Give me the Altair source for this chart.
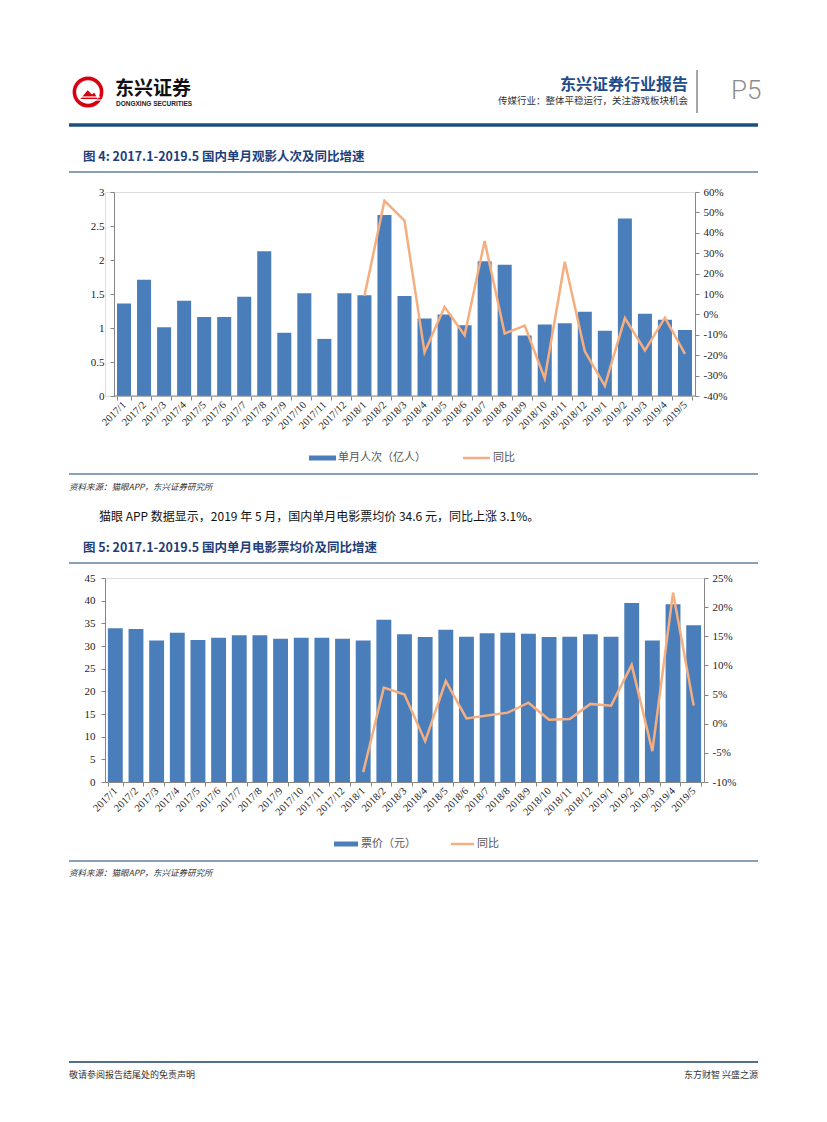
import altair as alt
import pandas as pd

months = ["2017/1","2017/2","2017/3","2017/4","2017/5","2017/6","2017/7","2017/8","2017/9","2017/10","2017/11","2017/12",
          "2018/1","2018/2","2018/3","2018/4","2018/5","2018/6","2018/7","2018/8","2018/9","2018/10","2018/11","2018/12",
          "2019/1","2019/2","2019/3","2019/4","2019/5"]
attend = [1.36,1.71,1.01,1.40,1.16,1.16,1.46,2.13,0.93,1.51,0.84,1.51,
          1.48,2.66,1.47,1.14,1.20,1.04,1.98,1.93,0.89,1.05,1.07,1.24,
          0.96,2.61,1.21,1.12,0.97]
attend_yoy = [None]*12 + [9.0,55.7,46.0,-18.6,3.6,-10.2,36.0,-9.4,-5.5,-31.4,25.8,-18.1,
                          -35.0,-1.8,-17.6,-1.6,-19.4]
price = [33.9,33.75,31.2,32.9,31.3,31.8,32.35,32.35,31.6,31.8,31.8,31.6,
         31.2,35.8,32.6,32.0,33.6,32.06,32.8,32.9,32.7,32.0,32.06,32.6,
         32.06,39.5,31.2,39.2,34.6]
price_yoy = [None]*12 + [-8.3,6.2,5.0,-3.0,7.3,0.9,1.4,1.9,3.6,0.7,0.8,3.4,
                         3.1,10.1,-4.7,22.5,3.1]

df1 = pd.DataFrame({"month": months, "v": attend, "yoy": attend_yoy})
df2 = pd.DataFrame({"month": months, "v": price, "yoy": price_yoy})
one = pd.DataFrame({"a": [1]})

BAR = "#4A7EBB"
LINE = "#F5AE80"
CJK = "Noto Sans CJK SC"
SERIF = "Liberation Serif"
AX = "#868686"


def txt(s, x, y, size=11, color="#222222", weight="normal", align="left", font=CJK, style="normal", baseline="middle"):
    return alt.Chart(one).mark_text(text=s, fontSize=size, color=color, fontWeight=weight, align=align,
                                    font=font, fontStyle=style, baseline=baseline).encode(
        x=alt.value(x), y=alt.value(y))


def rule(x1, x2, y1, y2, color, w, opacity=1):
    return alt.Chart(one).mark_rule(color=color, strokeWidth=w, opacity=opacity).encode(
        x=alt.value(x1), x2=alt.value(x2), y=alt.value(y1), y2=alt.value(y2))


def point(x, y, size, color, shape="circle", filled=True, sw=0):
    return alt.Chart(one).mark_point(shape=shape, size=size, filled=filled, color=color, opacity=1,
                                     strokeWidth=sw).encode(x=alt.value(x), y=alt.value(y))


def xaxis(domain=True):
    return alt.Axis(title=None, labelAngle=-45, labelAlign="right", labelBaseline="middle",
                    labelFont=SERIF, labelFontSize=10.5, labelColor="#222222", labelPadding=3,
                    labelOverlap=False, labelBound=False, tickBand="extent", tickSize=4,
                    domain=domain, domainColor=AX, tickColor=AX)


def yaxis(vals, orient, expr, offset=0):
    return alt.Axis(title=None, values=vals, orient=orient, labelExpr=expr, grid=False, offset=offset,
                    labelFont=SERIF, labelFontSize=11, labelColor="#222222",
                    labelPadding=4 if orient == "right" else 6,
                    tickSize=4, domainColor=AX, tickColor=AX)


def panel(df, w, x0, left_dom, left_vals, right_dom, right_vals, bar_pad):
    # x0: left inset of the plot inside the panel (used to line panels up with the page)
    xs = alt.Scale(paddingInner=bar_pad, paddingOuter=bar_pad / 2, range=[x0, w])
    base = alt.Chart(df).encode(x=alt.X("month:N", sort=months, axis=xaxis(domain=(x0 == 0)), scale=xs))
    bars = base.mark_bar(color=BAR).encode(
        y=alt.Y("v:Q", scale=alt.Scale(domain=left_dom, nice=False, zero=True),
                axis=yaxis(left_vals, "left", "'' + datum.value", offset=-x0)))
    line = base.mark_line(color=LINE, strokeWidth=2.5).encode(
        y=alt.Y("yoy:Q", scale=alt.Scale(domain=right_dom, nice=False, zero=False),
                axis=yaxis(right_vals, "right", "datum.value + '%'")))
    layers = [bars, line]
    if x0:
        layers.append(rule(x0, w, 204, 204, AX, 1))
    return alt.layer(*layers).resolve_scale(y="independent")


# ---------- panel 1 (header + figure 4 + body text), origin at page (104, 192) ----------
p1_core = panel(df1, 590, 9, [0, 3], [0, 0.5, 1, 1.5, 2, 2.5, 3],
                [-40, 60], list(range(-40, 61, 10)), 0.3)

p1_deco = [
    rule(-96, -95, -183, -183, "white", 1, 0),             # top-left anchor
    rule(-96, -95, 340, 340, "white", 1, 0),               # bottom anchor
    # logo
    point(-17, -100, 950, "#D7000F"),
    point(-17, -100, 560, "white"),
    point(-16, -97, 300, "#D7000F", shape="M -1 0.45 L -0.15 -0.55 L 0.35 -0.05 L 0.6 -0.3 L 1 0.45 Z"),
    rule(-27, -5, -95, -95, "white", 1.2),
    rule(-25, -3, -92, -92, "white", 1.2),
    txt("东兴证券", 10, -103, size=19, color="#111111", weight="bold"),
    txt("DONGXING SECURITIES", 11, -88, size=6.5, color="#222222", weight="bold", font="Liberation Sans"),
    # right header
    txt("东兴证券行业报告", 583, -107, size=16, color="#1E4D8C", weight="bold", align="right"),
    txt("传媒行业：整体平稳运行，关注游戏板块机会", 583, -91, size=9.5, color="#333333", align="right"),
    rule(592, 592, -122, -79, "#A6A6A6", 2),
    txt("P5", 626, -101, size=26, color="#8C8C8C", font="Roboto", weight=300),
    rule(-36, 653, -67, -67, "#1B4F80", 3.5),
    # figure title
    txt("图 4: 2017.1-2019.5 国内单月观影人次及同比增速", -22, -35, size=12.5, color="#1F3F7A", weight="bold"),
    rule(-36, 653, -20, -20, "#8AA0B6", 2),
    # legend
    rule(204, 231, 266, 266, BAR, 5),
    txt("单月人次（亿人）", 233, 266, size=11, color="#555555"),
    rule(358, 385, 266, 266, LINE, 2.5),
    txt("同比", 388, 266, size=11, color="#555555"),
    rule(-36, 653, 282, 282, "#8AA0B6", 2),
    txt("资料来源：猫眼APP，东兴证券研究所", -36, 295, size=8.5, color="#333333", style="italic"),
    txt("猫眼 APP 数据显示，2019 年 5 月，国内单月电影票均价 34.6 元，同比上涨 3.1%。", -6, 325, size=12, color="#111111"),
]
p1 = alt.layer(p1_core, *p1_deco).properties(width=590, height=204)

# ---------- panel 2 (figure 5 + footer), origin at page (104, 579) ----------
p2_core = panel(df2, 599, 0, [0, 45], list(range(0, 46, 5)),
                [-10, 25], list(range(-10, 26, 5)), 0.28)

p2_deco = [
    rule(-96, -95, -44, -44, "white", 1, 0),               # top-left anchor
    txt("图 5: 2017.1-2019.5 国内单月电影票均价及同比增速", -22, -30, size=12.5, color="#1F3F7A", weight="bold"),
    rule(-36, 653, -15, -15, "#8AA0B6", 2),
    rule(229, 253, 266, 266, BAR, 5),
    txt("票价（元）", 256, 266, size=11, color="#555555"),
    rule(346, 369, 266, 266, LINE, 2.5),
    txt("同比", 372, 266, size=11, color="#555555"),
    rule(-36, 653, 283, 283, "#8AA0B6", 2),
    txt("资料来源：猫眼APP，东兴证券研究所", -36, 295, size=8.5, color="#333333", style="italic"),
    rule(-36, 653, 484, 484, "#1B3F66", 1.5),
    txt("敬请参阅报告结尾处的免责声明", -36, 497, size=9, color="#333333"),
    txt("东方财智 兴盛之源", 653, 497, size=9, color="#333333", align="right"),
]
p2 = alt.layer(p2_core, *p2_deco).properties(width=599, height=204)

chart = alt.concat(p1, p2, columns=1, spacing=0, bounds="full").properties(
    padding=0
).configure_view(strokeWidth=0).configure(font=CJK)

chart.save("out.html", embed_options={"renderer": "svg", "actions": False})
